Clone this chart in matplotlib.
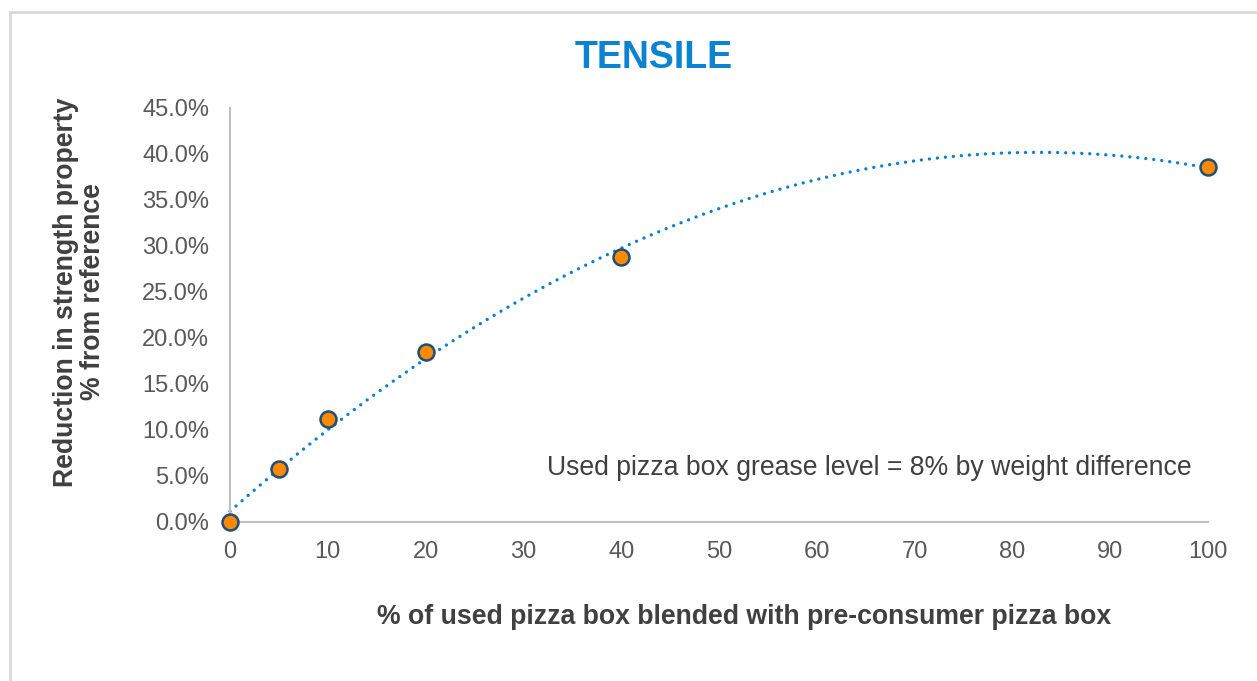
import numpy as np
import matplotlib
matplotlib.use("Agg")
import matplotlib.pyplot as plt
from matplotlib.patches import Rectangle
from matplotlib.ticker import FuncFormatter

plt.rcParams['font.family'] = ['Liberation Sans', 'DejaVu Sans']

# Data
blend_pct = [0, 5, 10, 20, 40, 100]
reduction_pct = [0.0, 5.8, 11.2, 18.5, 28.8, 38.6]
x_ticks = [0, 10, 20, 30, 40, 50, 60, 70, 80, 90, 100]
y_ticks = [0, 5, 10, 15, 20, 25, 30, 35, 40, 45]

title = "TENSILE"
x_label = "% of used pizza box blended with pre-consumer pizza box"
y_label = "Reduction in strength property\n% from reference"
note = "Used pizza box grease level = 8% by weight difference"

W, H = 1257, 681
fig = plt.figure(figsize=(W / 100, H / 100), dpi=100)
fig.patch.set_facecolor("white")

# outer chart frame (light shadowed border)
fig.patches.append(Rectangle((10 / W, -0.05), 1.1, 1 - 12 / H + 0.05,
                             transform=fig.transFigure, fill=False,
                             edgecolor="#D9D9D9", linewidth=2.0, zorder=0))

ax = fig.add_axes([230 / W, 1 - 522 / H, (1208 - 230) / W, (522 - 108) / H])
ax.set_xlim(0, 100)
ax.set_ylim(0, 45)

# polynomial (order 2) trendline
coef = np.polyfit(blend_pct, reduction_pct, 2)
xs = np.linspace(0, 100, 400)
ax.plot(xs, np.polyval(coef, xs), color="#0A7FCF", linewidth=2.4,
        dashes=[0.01, 2.4], dash_capstyle="round", zorder=2, clip_on=False)

ax.plot(blend_pct, reduction_pct, linestyle="none", marker="o", markersize=11.5,
        markerfacecolor="#FF8A00", markeredgecolor="#1F4E79", markeredgewidth=1.8,
        zorder=3, clip_on=False)

ax.set_xticks(x_ticks)
ax.set_yticks(y_ticks)
ax.yaxis.set_major_formatter(FuncFormatter(lambda v, p: f"{v:.1f}%"))
ax.tick_params(axis="both", length=0, labelsize=17, colors="#595959")
ax.tick_params(axis="x", pad=14)
ax.tick_params(axis="y", pad=15)

for s in ["top", "right"]:
    ax.spines[s].set_visible(False)
for s in ["left", "bottom"]:
    ax.spines[s].set_color("#BFBFBF")
    ax.spines[s].set_linewidth(1.5)

fig.text(654 / W, 1 - 58 / H, title, ha="center", va="center",
         fontsize=27, fontweight="bold", color="#0A84D0")
fig.text(744 / W, 1 - 617 / H, x_label, ha="center", va="center",
         fontsize=19.2, fontweight="bold", color="#404040")
fig.text(80 / W, 1 - 292 / H, y_label, ha="center", va="center", rotation=90,
         fontsize=19.2, fontweight="bold", color="#404040", linespacing=1.05)
ax.text(0.983, 0.13, note, transform=ax.transAxes, ha="right", va="center",
        fontsize=19.2, color="#404040")

fig.savefig("out.png", dpi=100)
